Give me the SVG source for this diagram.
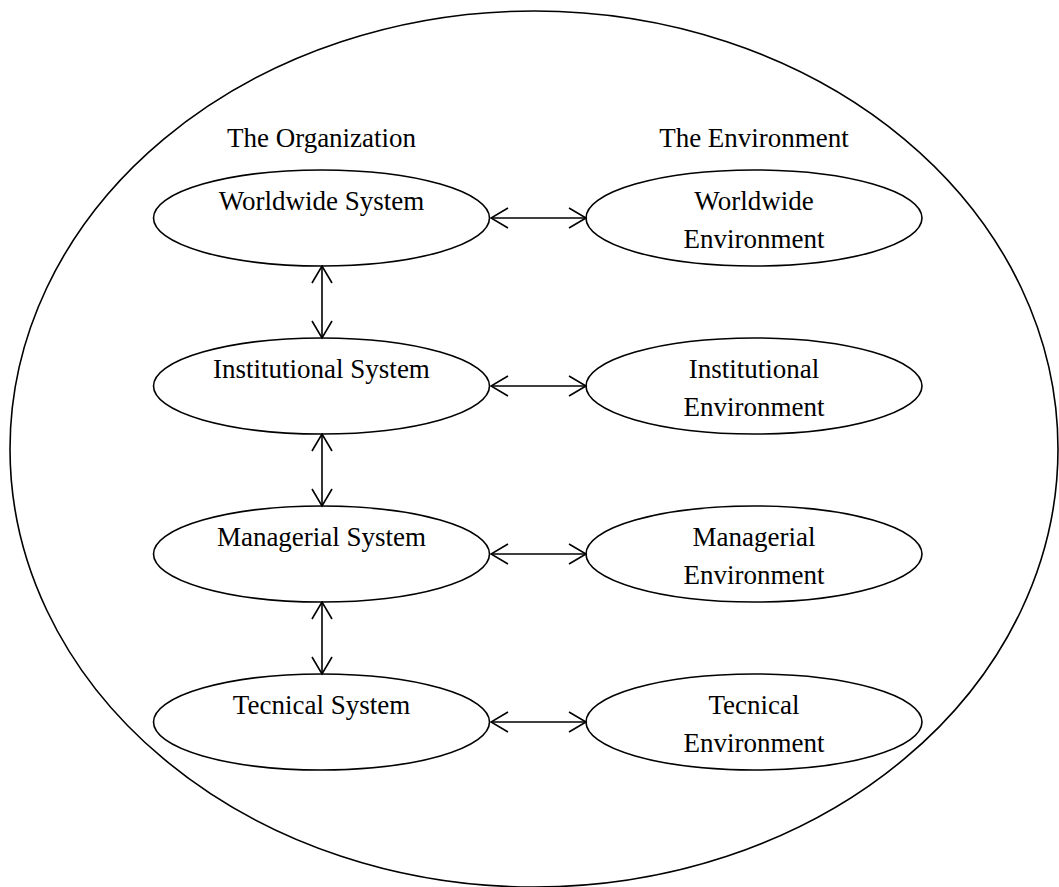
<svg xmlns="http://www.w3.org/2000/svg" width="1059" height="887" viewBox="0 0 1059 887">
  <defs>
    <marker id="open" viewBox="0 0 20 22" refX="18.5" refY="11" markerWidth="20" markerHeight="22" markerUnits="userSpaceOnUse" orient="auto-start-reverse">
      <path d="M1.5,1 L18.5,11 L1.5,21" fill="none" stroke="#000" stroke-width="1.6"/>
    </marker>
  </defs>
  <style>
    .shape { fill: #fff; stroke: #000; stroke-width: 1.6; }
    .label { font-family: "Liberation Serif", "Times New Roman", serif; font-size: 27px; fill: #000; text-anchor: middle; }
    .link { stroke: #000; stroke-width: 1.6; fill: none; marker-start: url(#open); marker-end: url(#open); }
  </style>
  <rect width="1059" height="887" fill="#fff"/>

  <!-- outer boundary -->
  <ellipse id="boundary" class="shape" cx="534" cy="449" rx="524" ry="438"/>

  <text class="label" x="321.5" y="147">The Organization</text>
  <text class="label" x="754" y="147">The Environment</text>

  <!-- organization column -->
  <g id="worldwide-system">
    <ellipse class="shape" cx="321.5" cy="218" rx="168" ry="48"/>
    <text class="label" x="321.5" y="210">Worldwide System</text>
  </g>
  <g id="institutional-system">
    <ellipse class="shape" cx="321.5" cy="386" rx="168" ry="48"/>
    <text class="label" x="321.5" y="378">Institutional System</text>
  </g>
  <g id="managerial-system">
    <ellipse class="shape" cx="321.5" cy="554" rx="168" ry="48"/>
    <text class="label" x="321.5" y="546">Managerial System</text>
  </g>
  <g id="tecnical-system">
    <ellipse class="shape" cx="321.5" cy="722" rx="168" ry="48"/>
    <text class="label" x="321.5" y="714">Tecnical System</text>
  </g>

  <!-- environment column -->
  <g id="worldwide-environment">
    <ellipse class="shape" cx="754" cy="218" rx="168" ry="48"/>
    <text class="label" x="754" y="210">Worldwide</text>
    <text class="label" x="754" y="248">Environment</text>
  </g>
  <g id="institutional-environment">
    <ellipse class="shape" cx="754" cy="386" rx="168" ry="48"/>
    <text class="label" x="754" y="378">Institutional</text>
    <text class="label" x="754" y="416">Environment</text>
  </g>
  <g id="managerial-environment">
    <ellipse class="shape" cx="754" cy="554" rx="168" ry="48"/>
    <text class="label" x="754" y="546">Managerial</text>
    <text class="label" x="754" y="584">Environment</text>
  </g>
  <g id="tecnical-environment">
    <ellipse class="shape" cx="754" cy="722" rx="168" ry="48"/>
    <text class="label" x="754" y="714">Tecnical</text>
    <text class="label" x="754" y="752">Environment</text>
  </g>

  <!-- two-way connectors -->
  <g id="connectors">
    <line class="link" x1="491" y1="218" x2="586" y2="218"/>
    <line class="link" x1="491" y1="386" x2="586" y2="386"/>
    <line class="link" x1="491" y1="554" x2="586" y2="554"/>
    <line class="link" x1="491" y1="722" x2="586" y2="722"/>
    <line class="link" x1="322" y1="266" x2="322" y2="338"/>
    <line class="link" x1="322" y1="434" x2="322" y2="506"/>
    <line class="link" x1="322" y1="602" x2="322" y2="674"/>
  </g>
</svg>
